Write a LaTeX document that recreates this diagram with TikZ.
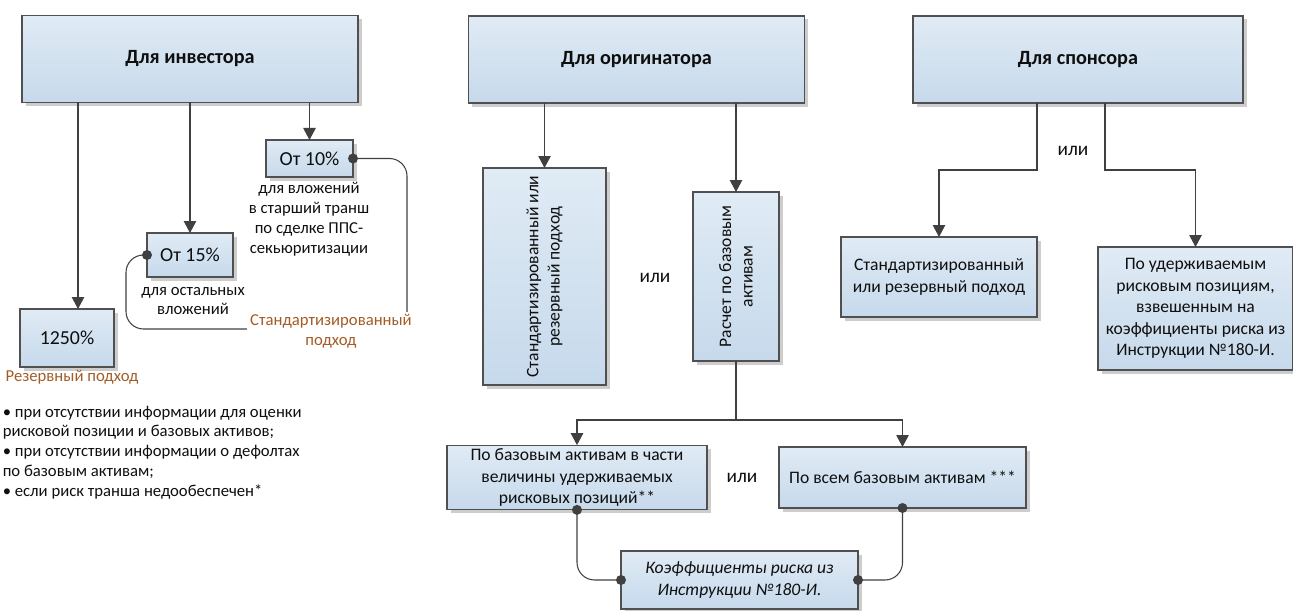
\documentclass[tikz,border=0pt]{standalone}
\usepackage{fontspec}
\setmainfont{Carlito}
\usepackage{tikz}
\usetikzlibrary{positioning}
\usetikzlibrary{calc}
\usetikzlibrary{shadows}
\usetikzlibrary{arrows.meta}
\definecolor{SECInk}{RGB}{15,15,15}
\definecolor{SECLine}{RGB}{64,64,64}
\definecolor{SECFrame}{RGB}{80,80,80}
\definecolor{SECFillTop}{RGB}{224,235,245}
\definecolor{SECFillBottom}{RGB}{198,217,235}
\definecolor{SECShadow}{RGB}{205,205,205}
\definecolor{SECNote}{RGB}{163,92,38}

\begin{document}
\begin{tikzpicture}[
x=1cm,
y=1cm,
every node/.style={font=\fontsize{10}{12.2}\selectfont,text=SECInk,outer sep=0pt},
box/.style={draw=SECFrame,line width=0.6pt,top color=SECFillTop,bottom color=SECFillBottom,drop shadow={shadow xshift=0.07cm,shadow yshift=-0.07cm,fill=SECShadow,opacity=1},align=center,inner sep=2pt},
headbox/.style={box,minimum width=6.72cm,minimum height=1.74cm,font=\fontsize{11.5}{13.5}\selectfont\bfseries},
pctbox/.style={box,font=\fontsize{11.3}{13.5}\selectfont},
tallbox/.style={box,minimum width=1.72cm},
textbox/.style={box,minimum height=1.22cm},
note/.style={font=\fontsize{9.5}{11.3}\selectfont,align=center,inner sep=1pt},
approach/.style={note,text=SECNote},
ortext/.style={font=\fontsize{11}{13}\selectfont,inner sep=1pt},
flow/.style={-{Triangle[length=2.4mm,width=2.5mm]},line width=0.6pt,draw=SECLine},
link/.style={line width=0.6pt,draw=SECLine,rounded corners=0.35cm},
joint/.style={fill=SECLine}
]

\path[use as bounding box] (0,0) rectangle (25.86,12.2);

\node[headbox] (inv) at (3.80,11.02) {Для инвестора};
\node[headbox] (orig) at (12.73,11.01) {Для оригинатора};
\node[headbox,minimum width=6.60cm] (spon) at (21.56,11.01) {Для спонсора};

\node[pctbox,minimum width=1.88cm,minimum height=1.16cm] (p1250) at (1.34,5.44) {1250\%};
\node[pctbox,minimum width=1.72cm,minimum height=0.88cm] (p15) at (3.80,7.10) {От 15\%};
\node[pctbox,minimum width=1.74cm,minimum height=0.74cm] (p10) at (6.19,9.03) {От 10\%};

\node[approach] (reslbl) at (1.44,4.66) {Резервный подход};
\node[note] (rest) at (3.86,6.18) {для остальных\\вложений};
\node[note] (senior) at (6.18,7.82) {для вложений\\в старший транш\\по сделке ППС-\\секьюритизации};

\node[note,align=left,anchor=north west] (cases) at (0.02,4.12) {• при отсутствии информации для оценки\\рисковой позиции и базовых активов;\\• при отсутствии информации о дефолтах\\по базовым активам;\\• если риск транша недообеспечен*};

\node[box,minimum width=2.46cm,minimum height=4.34cm] (origstd) at (10.89,6.67) {};
\node[rotate=90,align=center] (origstdtxt) at (origstd) {Стандартизированный или\\резервный подход};
\node[tallbox,minimum height=3.38cm] (calc) at (14.72,6.67) {};
\node[rotate=90,align=center] (calctxt) at (calc) {Расчет по базовым\\активам};
\node[ortext] (or1) at (13.10,6.64) {или};

\node[textbox,minimum width=5.20cm] (part) at (11.54,2.65) {По базовым активам в части\\величины удерживаемых\\рисковых позиций**};
\node[textbox,minimum width=4.94cm] (all) at (18.05,2.65) {По всем базовым активам ***};
\node[ortext] (or2) at (14.84,2.64) {или};
\node[box,minimum width=4.74cm,minimum height=1.16cm,font=\fontsize{10}{12.2}\selectfont\itshape] (coef) at (14.79,0.60) {Коэффициенты риска из\\Инструкции №180-И.};

\node[box,minimum width=3.92cm,minimum height=1.60cm] (sstd) at (18.78,6.66) {Стандартизированный\\или резервный подход};
\node[box,minimum width=3.90cm,minimum height=2.46cm] (sret) at (23.91,6.03) {По удерживаемым\\рисковым позициям,\\взвешенным на\\коэффициенты риска из\\Инструкции №180-И.};
\node[ortext] (or3) at (21.46,9.18) {или};

\coordinate (resIn) at ($(p1250.north)+(0.22,0)$);
\coordinate (stdR) at (8.14,5.62);
\coordinate (stdL) at (2.52,5.62);
\coordinate (calcSplit) at (14.72,3.80);
\coordinate (sponL) at (20.74,8.80);
\coordinate (sponR) at (22.10,8.80);

% investor
\draw[flow] (inv.south -| resIn) -- (resIn);
\draw[flow] (inv.south -| p15.north) -- (p15.north);
\draw[flow] (inv.south -| p10.north) -- (p10.north);

\draw[link] (p10.east) -| (stdR) -- (stdL) |- (p15.west);
\fill[joint] (p10.east) circle (0.1);
\fill[joint] (p15.west) circle (0.1);
\node[approach,fill=white,inner xsep=2pt] (stdlbl) at (6.62,5.58) {Стандартизированный\\подход};

% originator
\draw[flow] (orig.south -| origstd.north) -- (origstd.north);
\draw[flow] (orig.south -| calc.north) -- (calc.north);
\draw[line width=0.6pt,draw=SECLine] (calc.south) -- (calcSplit);
\draw[flow] (calcSplit) -| (part.north);
\draw[flow] (calcSplit) -| (all.north);

\draw[link] (part.south) |- (coef.west);
\draw[link] (all.south) |- (coef.east);
\fill[joint] (part.south) circle (0.1);
\fill[joint] (all.south) circle (0.1);
\fill[joint] (coef.west) circle (0.1);
\fill[joint] (coef.east) circle (0.1);

% sponsor
\draw[flow] (spon.south -| sponL) -- (sponL) -| (sstd.north);
\draw[flow] (spon.south -| sponR) -- (sponR) -| (sret.north);

\end{tikzpicture}
\end{document}
